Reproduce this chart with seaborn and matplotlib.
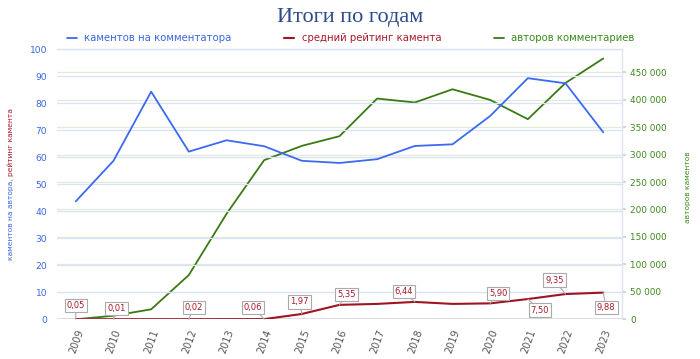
import matplotlib
matplotlib.use("Agg")
import matplotlib.pyplot as plt
import seaborn as sns
import pandas as pd
from matplotlib.ticker import FuncFormatter

years = list(range(2009, 2024))
comments_per_author = [43.7, 58.7, 84.3, 62.1, 66.3, 64.1, 58.7, 57.9, 59.3, 64.2, 64.8, 75.3, 89.3, 87.4, 69.3]
avg_rating = [0.05, 0.01, 0.03, 0.02, 0.04, 0.06, 1.97, 5.35, 5.70, 6.44, 5.70, 5.90, 7.50, 9.35, 9.88]
authors = [0, 6500, 18200, 80600, 192000, 289900, 315900, 333500, 402100, 394900, 419000, 399600, 364500, 430500, 475000]
rating_labels = {2009: "0,05", 2010: "0,01", 2012: "0,02", 2014: "0,06", 2015: "1,97", 2016: "5,35",
                 2018: "6,44", 2020: "5,90", 2021: "7,50", 2022: "9,35", 2023: "9,88"}

title = "Итоги по годам"
name_blue = "каментов на комментатора"
name_red = "средний рейтинг камента"
name_green = "авторов комментариев"

df = pd.DataFrame({"year": years, "cpa": comments_per_author, "rating": avg_rating, "authors": authors})

c_blue = "#3b6af0"
c_red = "#9e1522"
c_green = "#3a7a14"
c_blue_txt = "#3a66e0"
c_red_txt = "#a8192a"
c_green_txt = "#3d8a1c"

sns.set_theme(style="white")
plt.rcParams["font.family"] = ["DejaVu Sans"]

fig = plt.figure(figsize=(7.0, 3.59), dpi=100)
ax = fig.add_axes([0.0814, 0.1106, 0.8072, 0.7521])
ax2 = ax.twinx()

# grids
ax.set_ylim(0, 100)
ax.set_yticks(range(0, 101, 10))
ax2.set_ylim(0, 491800)
ax2.set_yticks(range(0, 450001, 50000))
for v in range(10, 101, 10):
    ax.axhline(v, color="#d9e2fb", lw=0.9, zorder=0)
for v in range(50000, 450001, 50000):
    ax2.axhline(v, color="#e0ecd8", lw=0.9, zorder=0)
ax.axhline(0, color="#dddddd", lw=1.4, zorder=0)

sns.lineplot(data=df, x="year", y="cpa", ax=ax, color=c_blue, lw=1.3, label=name_blue, legend=False)
sns.lineplot(data=df, x="year", y="rating", ax=ax, color=c_red, lw=1.5, label=name_red, legend=False, zorder=5)
sns.lineplot(data=df, x="year", y="authors", ax=ax2, color=c_green, lw=1.3, label=name_green, legend=False)

ax.set_zorder(ax2.get_zorder() + 1)
ax.patch.set_visible(False)

ax.set_xlim(2008.5, 2023.5)
ax.set_xticks(years)
ax.set_xticklabels([str(y) for y in years], rotation=70, ha="right", va="top",
                   rotation_mode="anchor", color="#555555", fontsize=7)
ax.tick_params(axis="x", length=0, pad=6)
ax.tick_params(axis="y", length=0, labelcolor=c_blue_txt, labelsize=6.6, pad=7)
ax2.tick_params(axis="y", length=3, color="#d0d0d0", labelcolor=c_green_txt, labelsize=6.4, pad=3)
ax2.yaxis.set_major_formatter(FuncFormatter(lambda v, p: f"{int(v):,}".replace(",", " ")))
ax.set_xlabel("")
ax.set_ylabel("")
ax2.set_ylabel("")

for s in ["left", "bottom"]:
    ax.spines[s].set_visible(False)
    ax2.spines[s].set_visible(False)
for s in ["top", "right"]:
    ax.spines[s].set_visible(False)
    ax2.spines[s].set_color("#dde3f2")
    ax2.spines[s].set_linewidth(1)

# annotations
offsets = {2009: (0, 14), 2010: (3, 11), 2012: (5, 12), 2014: (-11, 12), 2015: (-2, 12), 2016: (7, 10),
           2018: (-11, 10), 2020: (8, 10), 2021: (12, -11), 2022: (-11, 14), 2023: (3, -15)}
for yr, lab in rating_labels.items():
    val = avg_rating[years.index(yr)]
    ax.annotate(lab, xy=(yr, val), xytext=offsets[yr], textcoords="offset pixels",
                ha="center", va="center", fontsize=6, color=c_red_txt, zorder=10,
                bbox=dict(boxstyle="square,pad=0.25", fc="white", ec="#aaaaaa", lw=0.8),
                arrowprops=dict(arrowstyle="-", color="#aaaaaa", lw=0.8, shrinkA=0, shrinkB=0))

# title
fig.text(0.5, 0.952, title, ha="center", va="center", fontsize=16,
         family="Liberation Serif", color="#2c4a8c")

# legend
handles = [l for l in ax.get_lines() if l.get_label() in (name_blue, name_red)] + \
          [l for l in ax2.get_lines() if l.get_label() == name_green]
leg = fig.legend(handles=handles, labels=[name_blue, name_red, name_green], loc="center",
                 bbox_to_anchor=(0.501, 0.894), ncol=3, frameon=False, fontsize=7.3,
                 handlelength=1.0, handletextpad=0.7, columnspacing=5.2)
for t, c in zip(leg.get_texts(), [c_blue_txt, c_red_txt, c_green_txt]):
    t.set_color(c)

# axis labels
fig.text(0.016, 0.39, "каментов на автора,", rotation=90, ha="center", va="center",
         fontsize=5.4, color=c_blue_txt)
fig.text(0.016, 0.603, "рейтинг камента", rotation=90, ha="center", va="center",
         fontsize=5.4, color=c_red_txt)
fig.text(0.983, 0.478, "авторов каментов", rotation=90, ha="center", va="center",
         fontsize=5.4, color=c_green_txt)

fig.savefig("out.png", dpi=100)
